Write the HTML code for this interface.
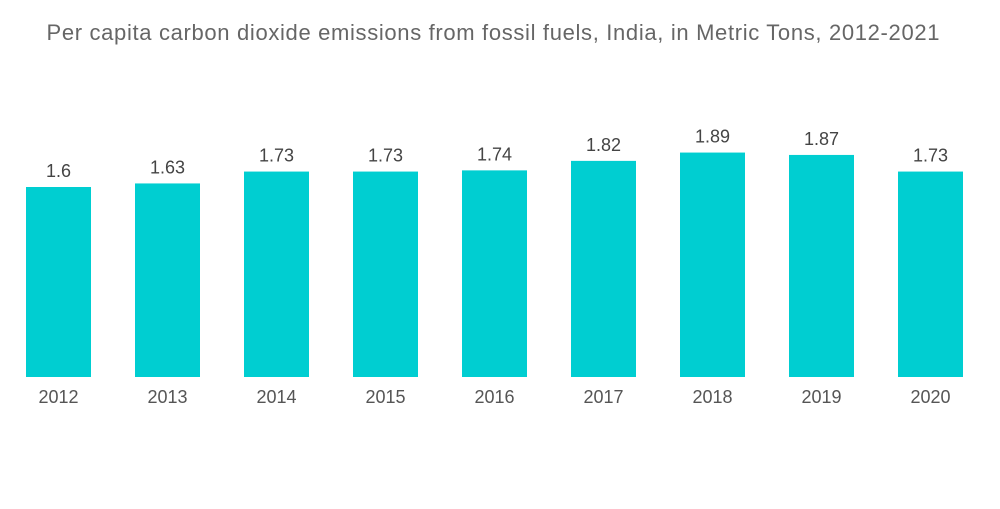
<!DOCTYPE html>
<html><head><meta charset="utf-8"><style>
body{margin:0;background:#fff;width:1000px;height:504px;overflow:hidden}
text{font-family:"Liberation Sans",sans-serif}
</style></head><body>
<svg width="1000" height="504">
<text x="493" y="40" text-anchor="middle" font-size="22" textLength="893" lengthAdjust="spacing" fill="#666">Per capita carbon dioxide emissions from fossil fuels, India, in Metric Tons, 2012-2021</text>
<g id="bars"></g>
</svg>
<script>
const categories=["2012","2013","2014","2015","2016","2017","2018","2019","2020"];
const values=[1.6,1.63,1.73,1.73,1.74,1.82,1.89,1.87,1.73];
const labels=["1.6","1.63","1.73","1.73","1.74","1.82","1.89","1.87","1.73"];
const base=377, scale=118.75, x0=26, step=109, bw=65;
const x=i=>x0+i*step, y=v=>base-v*scale;
const g=document.getElementById('bars'), ns="http://www.w3.org/2000/svg";
categories.forEach((c,i)=>{
  const r=document.createElementNS(ns,'rect');
  r.setAttribute('x',x(i));r.setAttribute('y',y(values[i]));
  r.setAttribute('width',bw);r.setAttribute('height',base-y(values[i]));
  r.setAttribute('fill','#00ced1');
  
  
  g.appendChild(r);
  const t=document.createElementNS(ns,'text');
  t.setAttribute('x',x(i)+bw/2);t.setAttribute('y',y(values[i])-10);
  t.setAttribute('text-anchor','middle');t.setAttribute('font-size','18');t.setAttribute('fill','#444');
  t.textContent=labels[i];
  
  
  g.appendChild(t);
  const a=document.createElementNS(ns,'text');
  a.setAttribute('x',x(i)+bw/2);a.setAttribute('y',403);
  a.setAttribute('text-anchor','middle');a.setAttribute('font-size','18');a.setAttribute('fill','#555');
  a.textContent=c;
  
  
  g.appendChild(a);
});
</script>
</body></html>
